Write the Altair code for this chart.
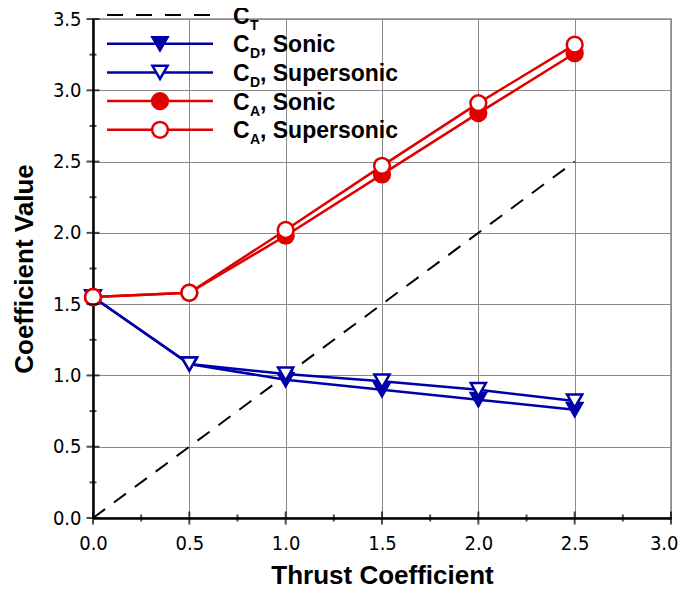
import altair as alt
import pandas as pd

# ---------------- data ----------------
thrust = [0.0, 0.5, 1.0, 1.5, 2.0, 2.5]
cd_sonic = [1.55, 1.08, 0.97, 0.90, 0.83, 0.76]
cd_super = [1.55, 1.08, 1.01, 0.96, 0.90, 0.82]
ca_sonic = [1.55, 1.58, 1.98, 2.41, 2.84, 3.26]
ca_super = [1.55, 1.58, 2.02, 2.47, 2.91, 3.32]
ct_x = [0.0, 2.5]
ct_y = [0.0, 2.5]

x_major = [0.0, 0.5, 1.0, 1.5, 2.0, 2.5, 3.0]
x_minor = [0.25, 0.75, 1.25, 1.75, 2.25, 2.75]
y_major = [0.0, 0.5, 1.0, 1.5, 2.0, 2.5, 3.0, 3.5]
y_minor = [0.25, 0.75, 1.25, 1.75, 2.25, 2.75, 3.25]

legend_main = ["C", "C", "C", "C", "C"]
legend_sub = ["T", "D", "D", "A", "A"]
legend_rest = ["", ", Sonic", ", Supersonic", ", Sonic", ", Supersonic"]

BLUE = "#0000A8"
RED = "#E00000"
LABEL_FONT = "DejaVu Sans Condensed, Liberation Sans Narrow, sans-serif"
TEXT_FONT = "Liberation Sans, Arial, sans-serif"

xs = alt.Scale(domain=[0, 3.0], nice=False, zero=False)
ys = alt.Scale(domain=[0, 3.5], nice=False, zero=False)

x_axis = alt.Axis(values=x_major, format=".1f", grid=True, gridColor="#8a8a8a", gridWidth=1,
                  domainColor="black", domainWidth=2.5, ticks=False, labelFlush=False,
                  labelAlign={"condition": {"test": "datum.value >= 3", "value": "right"},
                              "value": "center"},
                  labelOffset={"condition": {"test": "datum.value >= 3", "value": 7},
                               "value": 0},
                  labelFont=LABEL_FONT, labelFontSize=20, labelColor="black", labelPadding=15,
                  title="Thrust Coefficient", titleFont=TEXT_FONT, titleFontSize=26,
                  titleFontWeight="bold", titleColor="black", titlePadding=9)
y_axis = alt.Axis(values=y_major, format=".1f", grid=True, gridColor="#8a8a8a", gridWidth=1,
                  domainColor="black", domainWidth=2.5, ticks=False, labelFlush=False,
                  labelFont=LABEL_FONT, labelFontSize=20, labelColor="black", labelPadding=12,
                  title="Coefficient Value", titleFont=TEXT_FONT, titleFontSize=26,
                  titleFontWeight="bold", titleColor="black", titlePadding=15)

series = [
    ("CD Sonic", cd_sonic, BLUE, "triangle-down", True),
    ("CD Supersonic", cd_super, BLUE, "triangle-down", False),
    ("CA Sonic", ca_sonic, RED, "circle", True),
    ("CA Supersonic", ca_super, RED, "circle", False),
]

layers = []

# CT dashed line
ct_df = pd.DataFrame({"x": ct_x, "y": ct_y})
layers.append(
    alt.Chart(ct_df).mark_line(color="black", strokeWidth=2, strokeDash=[15, 11]).encode(
        x=alt.X("x:Q", scale=xs, axis=x_axis),
        y=alt.Y("y:Q", scale=ys, axis=y_axis),
    )
)

for name, vals, col, shape, filled in series:
    df = pd.DataFrame({"x": thrust, "y": vals})
    base = alt.Chart(df).encode(x=alt.X("x:Q", scale=xs), y=alt.Y("y:Q", scale=ys))
    layers.append(base.mark_line(color=col, strokeWidth=2.5))
    size = 250 if shape == "circle" else 230
    layers.append(base.mark_point(shape=shape, size=size, filled=True,
                                  fill=col if filled else "white", stroke=col,
                                  strokeWidth=2.5, opacity=1))

# crossing axis ticks
for vals, sz in ((x_major, 13), (x_minor, 7)):
    layers.append(
        alt.Chart(pd.DataFrame({"v": vals})).mark_tick(orient="vertical", size=sz, thickness=2,
                                                       color="black").encode(
            x=alt.X("v:Q", scale=xs), y=alt.datum(0)
        )
    )
for vals, sz in ((y_major, 13), (y_minor, 7)):
    layers.append(
        alt.Chart(pd.DataFrame({"v": vals})).mark_tick(orient="horizontal", size=sz, thickness=2,
                                                       color="black").encode(
            y=alt.Y("v:Q", scale=ys), x=alt.datum(0)
        )
    )

# legend (drawn in pixel space, top-left of the plot)
leg_styles = [("black", None, False, True), (BLUE, "triangle-down", True, False),
              (BLUE, "triangle-down", False, False), (RED, "circle", True, False),
              (RED, "circle", False, False)]
one = alt.Data(values=[{"k": 0}])
row_y0, row_dy = -4, 28.7
for i, (col, shape, filled, dashed) in enumerate(leg_styles):
    yy = row_y0 + i * row_dy
    rule_kw = dict(color=col, strokeWidth=2 if dashed else 2.5)
    if dashed:
        rule_kw["strokeDash"] = [16, 13]
    layers.append(alt.Chart(one).mark_rule(**rule_kw).encode(
        x=alt.value(14), x2=alt.value(120), y=alt.value(yy)))
    if shape:
        layers.append(alt.Chart(one).mark_point(shape=shape, size=250 if shape == "circle" else 230,
                                                filled=True, fill=col if filled else "white",
                                                stroke=col, strokeWidth=2.5, opacity=1).encode(
            x=alt.value(67), y=alt.value(yy)))
    layers.append(alt.Chart(one).mark_text(font=TEXT_FONT, fontSize=23, fontWeight="bold",
                                           align="left", baseline="middle", color="black").encode(
        x=alt.value(140), y=alt.value(yy + 1.5), text=alt.value(legend_main[i])))
    layers.append(alt.Chart(one).mark_text(font=TEXT_FONT, fontSize=14, fontWeight="bold",
                                           align="left", baseline="middle", color="black").encode(
        x=alt.value(157), y=alt.value(yy + 10.5), text=alt.value(legend_sub[i])))
    if legend_rest[i]:
        layers.append(alt.Chart(one).mark_text(font=TEXT_FONT, fontSize=23, fontWeight="bold",
                                               align="left", baseline="middle", color="black").encode(
            x=alt.value(167), y=alt.value(yy + 1.5), text=alt.value(legend_rest[i])))

chart = alt.layer(*layers).properties(
    width=578, height=499,
    padding={"left": 85, "top": 11, "right": 7, "bottom": 69},
    autosize=alt.AutoSizeParams(type="none"),
    background="white",
).configure_view(stroke="#8a8a8a", strokeWidth=1.5)

chart.save("out.html", embed_options={"renderer": "svg", "actions": False})
